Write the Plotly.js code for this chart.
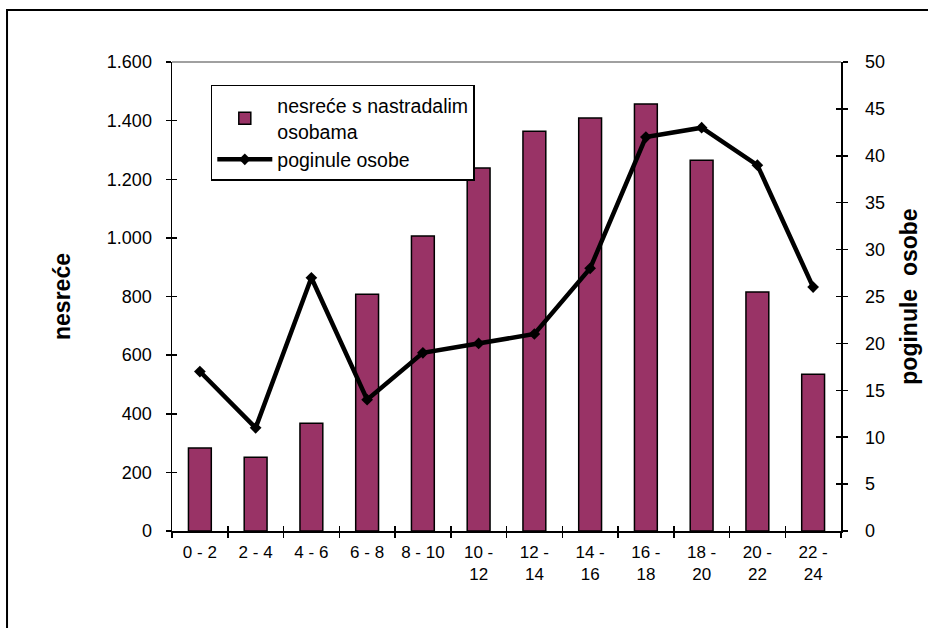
<!DOCTYPE html>
<html>
<head>
<meta charset="utf-8">
<script src="https://cdn.plot.ly/plotly-3.0.1.min.js"></script>
<style>html,body{margin:0;padding:0;background:#fff;}#chart{width:928px;height:628px;}</style>
</head>
<body>
<div id="chart"></div>
<script>
// Data
const categories = ["0 - 2", "2 - 4", "4 - 6", "6 - 8", "8 - 10", "10 -<br>12", "12 -<br>14", "14 -<br>16", "16 -<br>18", "18 -<br>20", "20 -<br>22", "22 -<br>24"];
const accidents = [283, 252, 368, 808, 1006, 1238, 1364, 1409, 1457, 1265, 815, 535];
const fatalities = [17, 11, 27, 14, 19, 20, 21, 28, 42, 43, 39, 26];
const barName = "nesreće s nastradalim<br>osobama";
const lineName = "poginule osobe";
const leftTitle = "nesreće";
const rightTitle = "poginule  osobe";

const FONT = "Liberation Sans, Arial, sans-serif";
const nCat = categories.length;

const traces = [
  {
    type: "bar", x: categories, y: accidents, name: barName,
    marker: {color: "#993366", line: {color: "#000", width: 1.5}},
    xaxis: "x", yaxis: "y"
  },
  {
    type: "scatter", mode: "lines+markers", x: categories, y: fatalities, name: lineName,
    line: {color: "#000", width: 4.5},
    marker: {symbol: "diamond", size: 9, color: "#000"},
    xaxis: "x", yaxis: "y2"
  }
];

const layout = {
  width: 928, height: 628,
  margin: {l: 172, r: 87, t: 62, b: 97},
  paper_bgcolor: "#fff", plot_bgcolor: "#fff",
  separators: ",.",
  font: {family: FONT, color: "#000", size: 16},
  showlegend: true,
  bargap: 0.59,
  xaxis: {
    type: "category", tickson: "boundaries", range: [-0.5, nCat - 0.5],
    ticks: "outside", ticklen: 5, tickwidth: 1.5, tickcolor: "#000",
    showline: true, linecolor: "#000", linewidth: 1.5,
    showgrid: false, zeroline: false,
    tickfont: {size: 17, family: FONT},
    ticklabelstandoff: 5
  },
  xaxis3: {
    overlaying: "x", anchor: "y", type: "linear", range: [-0.5, nCat - 0.5],
    tick0: 0.5, dtick: 1, ticks: "inside", ticklen: 5, tickwidth: 1.5, tickcolor: "#000",
    showticklabels: false, showgrid: false, zeroline: false, showline: false
  },
  yaxis: {
    range: [0, 1600], dtick: 200, tickformat: ",d",
    ticks: "outside", ticklen: 5, tickwidth: 1.5, tickcolor: "#000",
    showline: true, linecolor: "#000", linewidth: 1.5,
    showgrid: false, zeroline: false,
    tickfont: {size: 18, family: FONT},
    ticklabelstandoff: 10,
    title: {text: leftTitle, font: {size: 23, family: FONT, weight: "bold"}, standoff: 30}
  },
  yaxis3: {
    overlaying: "y", anchor: "x", range: [0, 1600], dtick: 200,
    ticks: "inside", ticklen: 5, tickwidth: 1.5, tickcolor: "#000",
    showticklabels: false, showgrid: false, zeroline: false, showline: false
  },
  yaxis2: {
    overlaying: "y", side: "right", anchor: "x", range: [0, 50], dtick: 5,
    ticks: "outside", ticklen: 5, tickwidth: 1.5, tickcolor: "#000",
    showline: true, linecolor: "#000", linewidth: 1.5,
    showgrid: false, zeroline: false,
    tickfont: {size: 18, family: FONT},
    ticklabelstandoff: 14,
    title: {text: rightTitle, font: {size: 23, family: FONT, weight: "bold"}, standoff: 17}
  },
  yaxis4: {
    overlaying: "y", side: "right", anchor: "x", range: [0, 50], dtick: 5,
    ticks: "inside", ticklen: 5, tickwidth: 1.5, tickcolor: "#000",
    showticklabels: false, showgrid: false, zeroline: false, showline: false
  },
  legend: {
    x: 0.058, y: 0.951, xanchor: "left", yanchor: "top",
    bgcolor: "#fff", bordercolor: "#000", borderwidth: 1.5,
    font: {size: 19.5, family: FONT},
    itemwidth: 55, tracegroupgap: 6
  },
  shapes: [
    {type: "line", xref: "paper", yref: "paper", x0: 0, x1: 1, y0: 1, y1: 1,
     line: {color: "#808080", width: 1.5}},
    {type: "rect", xref: "paper", yref: "paper", x0: -0.2466, x1: 1.5, y0: 1.1109, y1: -0.5,
     line: {color: "#000", width: 2}, layer: "below"}
  ]
};

// invisible helpers so the overlay tick axes (cross ticks) render
traces.push({type: "scatter", x: [0], y: [0], xaxis: "x3", yaxis: "y3", mode: "markers",
  marker: {opacity: 0}, showlegend: false, hoverinfo: "skip"});
traces.push({type: "scatter", x: [0], y: [0], xaxis: "x3", yaxis: "y4", mode: "markers",
  marker: {opacity: 0}, showlegend: false, hoverinfo: "skip"});

Plotly.newPlot("chart", traces, layout, {displayModeBar: false, staticPlot: true});
</script>
</body>
</html>
